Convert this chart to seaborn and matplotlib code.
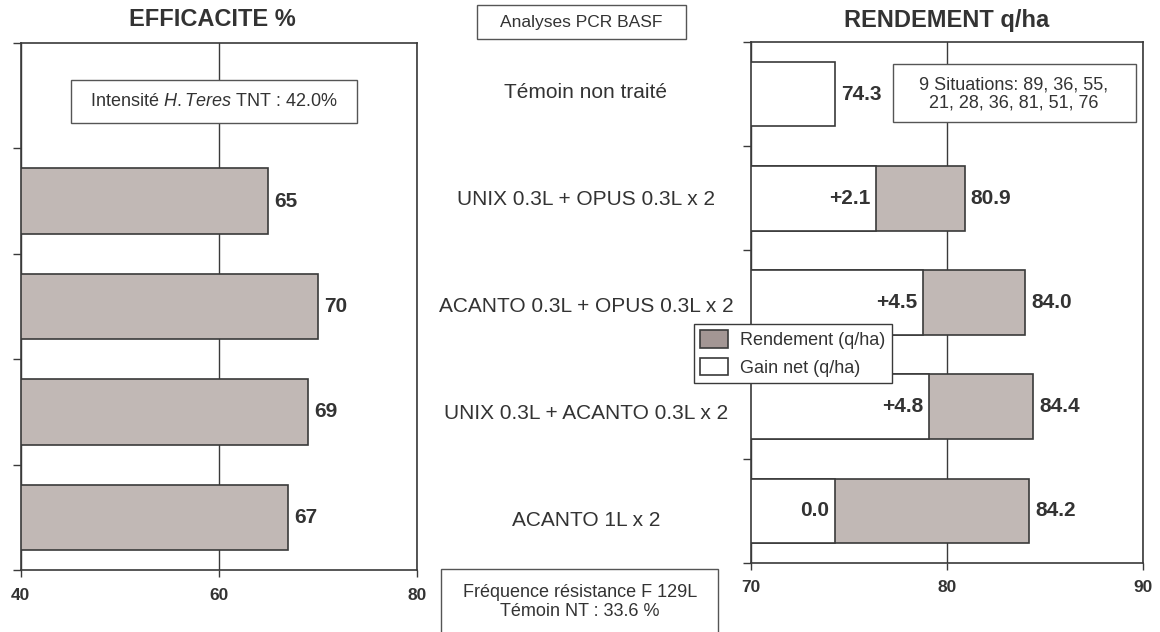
import numpy as np
import pandas as pd
import matplotlib
matplotlib.use("Agg")
import matplotlib.pyplot as plt
from matplotlib.patches import Rectangle, Patch
import seaborn as sns

# ---- data -------------------------------------------------------------
treatments = [
    "Témoin non traité",
    "UNIX 0.3L + OPUS 0.3L x 2",
    "ACANTO 0.3L + OPUS 0.3L x 2",
    "UNIX 0.3L + ACANTO 0.3L x 2",
    "ACANTO 1L x 2",
]
efficacite = [np.nan, 65, 70, 69, 67]          # %
rendement = [74.3, 80.9, 84.0, 84.4, 84.2]     # q/ha
gain_net = [np.nan, 2.1, 4.5, 4.8, 0.0]        # q/ha over untreated control
eff_ticks = [40, 60, 80]
rdt_ticks = [70, 80, 90]

# ---- style ------------------------------------------------------------
sns.set_style("ticks")
FONT = "Liberation Sans"
plt.rcParams["font.family"] = [FONT, "DejaVu Sans"]
plt.rcParams["mathtext.fontset"] = "custom"
plt.rcParams["mathtext.rm"] = FONT
plt.rcParams["mathtext.it"] = FONT + ":italic"

TXT = "#333333"
EDGE = "#3a3a3a"
BAR = "#c1b8b5"
LEG = "#a39694"
BOX = "#555555"

W, H = 1160, 632
fig = plt.figure(figsize=(W / 100, H / 100), dpi=100)


def fx(px):
    return px / W


def fy(py):
    return 1 - py / H


df = pd.DataFrame({
    "traitement": treatments,
    "efficacite": efficacite,
    "rendement": rendement,
    "gain": gain_net,
})
temoin = df["rendement"].iloc[0]
df["seuil"] = temoin + df["gain"].fillna(0.0)
treated = df.dropna(subset=["gain"])


def style_axes(ax, ticks, pad):
    ax.set_xlim(ticks[0], ticks[-1])
    ax.set_xticks(ticks)
    ax.set_xticklabels([str(t) for t in ticks], fontsize=12.5,
                       fontweight="bold", color=TXT)
    ax.set_ylim(len(treatments) - 0.5, -0.5)
    ax.set_yticks(np.arange(-0.5, len(treatments), 1.0))
    ax.set_yticklabels([])
    ax.set_xlabel("")
    ax.set_ylabel("")
    for s in ax.spines.values():
        s.set_visible(True)
        s.set_color(EDGE)
        s.set_linewidth(1.2)
    ax.tick_params(axis="y", length=6, width=1, color=EDGE)
    ax.tick_params(axis="x", length=5, width=1, color=EDGE, pad=pad)
    ax.xaxis.grid(True, color=EDGE, linewidth=1)
    ax.yaxis.grid(False)
    ax.set_axisbelow(True)


VAL = dict(fontsize=15, fontweight="bold", color=TXT, va="center",
           textcoords="offset pixels")

# ---- left panel: efficacy ---------------------------------------------
ax1 = fig.add_axes([fx(20.7), fy(570), 396 / W, 527 / H])
sns.barplot(data=df.dropna(subset=["efficacite"]), x="efficacite",
            y="traitement", order=treatments, orient="h", color=BAR,
            saturation=1, edgecolor=EDGE, linewidth=1.2, width=0.62, ax=ax1)
style_axes(ax1, eff_ticks, 8)
for p in ax1.patches:
    end = p.get_x() + p.get_width()
    ax1.annotate(f"{end:.0f}", xy=(end, p.get_y() + p.get_height() / 2),
                 xytext=(6, 0), ha="left", **VAL)

# ---- right panel: yield -----------------------------------------------
ax2 = fig.add_axes([fx(751), fy(563), 392 / W, 521 / H])
sns.barplot(data=treated, x="rendement", y="traitement", order=treatments,
            orient="h", color=BAR, saturation=1, edgecolor=EDGE,
            linewidth=1.2, width=0.62, ax=ax2)
n_gray = len(ax2.patches)
sns.barplot(data=df, x="seuil", y="traitement", order=treatments,
            orient="h", color="white", saturation=1, edgecolor=EDGE,
            linewidth=1.2, width=0.62, ax=ax2)
style_axes(ax2, rdt_ticks, 7)

gray_bars = ax2.patches[:n_gray]
white_bars = ax2.patches[n_gray:]
for p, val in zip(gray_bars, treated["rendement"]):
    ax2.annotate(f"{val:.1f}",
                 xy=(p.get_width(), p.get_y() + p.get_height() / 2),
                 xytext=(6, 0), ha="left", **VAL)
for p, g, r in zip(white_bars, df["gain"], df["rendement"]):
    yc = p.get_y() + p.get_height() / 2
    if np.isnan(g):
        ax2.annotate(f"{r:.1f}", xy=(p.get_width(), yc), xytext=(6, 0),
                     ha="left", **VAL)
    else:
        lab = f"+{g:.1f}" if g > 0 else f"{g:.1f}"
        ax2.annotate(lab, xy=(p.get_width(), yc), xytext=(-6, 0),
                     ha="right", **VAL)

# ---- titles and treatment names ---------------------------------------
fig.text(fx(212), fy(20), "EFFICACITE %", ha="center", va="center",
         fontsize=17, fontweight="bold", color=TXT)
fig.text(fx(947), fy(20), "RENDEMENT q/ha", ha="center", va="center",
         fontsize=17, fontweight="bold", color=TXT)
for i, name in enumerate(treatments):
    fig.text(fx(586), fy(93 + 106.75 * i), name, ha="center", va="center",
             fontsize=15, color=TXT)


# ---- framed notes -----------------------------------------------------
def note(x0, y0, x1, y1, text, cx, cy, size=13, ls=1.05):
    fig.add_artist(Rectangle((fx(x0), fy(y1)), (x1 - x0) / W, (y1 - y0) / H,
                             transform=fig.transFigure, facecolor="white",
                             edgecolor=BOX, linewidth=1, zorder=3))
    fig.text(fx(cx), fy(cy), text, ha="center", va="center", fontsize=size,
             color=TXT, linespacing=ls, zorder=4, multialignment="center")


note(71, 80, 357, 123, r"Intensité $\mathit{H.Teres}$ TNT : 42.0%", 214, 102)
note(893, 64, 1136, 122, "9 Situations: 89, 36, 55,\n21, 28, 36, 81, 51, 76",
     1014, 94, ls=1.1)
note(477, 5, 686, 39, "Analyses PCR BASF", 581, 22, size=12.5)
note(441, 569, 718, 640, "Fréquence résistance F 129L\nTémoin NT : 33.6 %",
     580, 602, ls=1.2)

# ---- legend -----------------------------------------------------------
handles = [Patch(facecolor=LEG, edgecolor=EDGE, linewidth=1.2),
           Patch(facecolor="white", edgecolor=EDGE, linewidth=1.2)]
leg = fig.legend(handles, ["Rendement (q/ha)", "Gain net (q/ha)"],
                 loc="upper left", bbox_to_anchor=(fx(694), fy(324)),
                 bbox_transform=fig.transFigure, fontsize=13, frameon=True,
                 fancybox=False, framealpha=1, edgecolor=EDGE,
                 borderpad=0.35, handlelength=1.55, handleheight=1.15,
                 handletextpad=0.65, labelspacing=0.45, borderaxespad=0)
leg.get_frame().set_linewidth(1)
for t in leg.get_texts():
    t.set_color(TXT)

fig.savefig("out.png", dpi=100)
